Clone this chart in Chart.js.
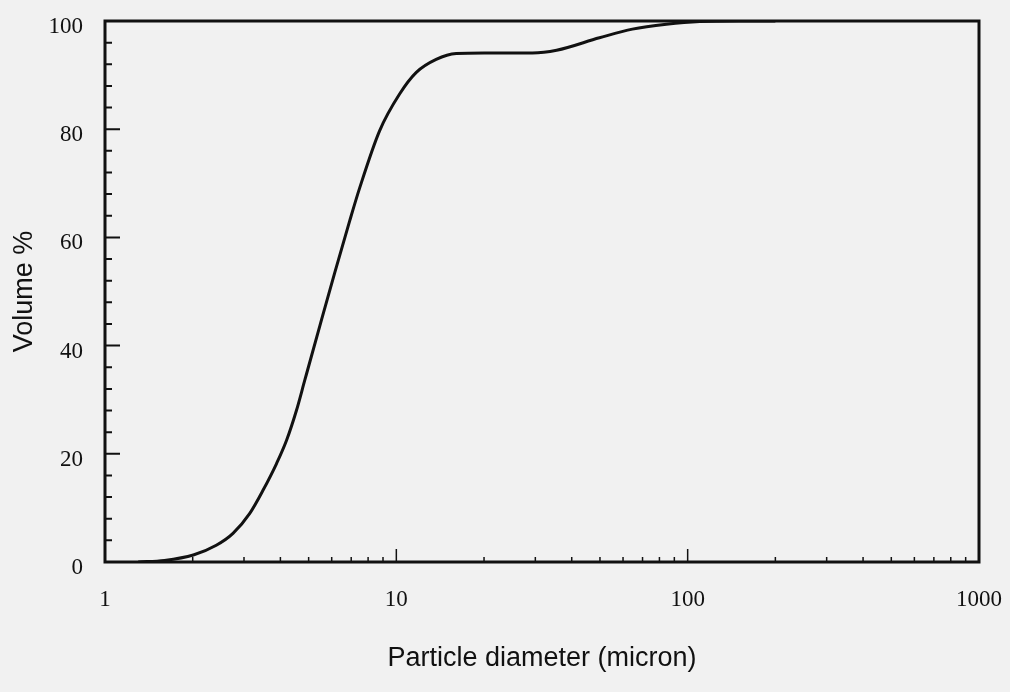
<!DOCTYPE html>
<html>
<head>
<meta charset="utf-8">
<script src="https://cdn.jsdelivr.net/npm/chart.js@4.4.1/dist/chart.umd.min.js"></script>
<style>
  html, body { margin: 0; padding: 0; background: #f1f1f1; }
  #wrap { width: 1010px; height: 692px; }
</style>
</head>
<body>
<div id="wrap"><canvas id="psdChart"></canvas></div>
<script>
// ---------- DATA ----------
let diameters = [1.3, 1.6, 2.01, 2.41, 2.75, 3.14, 3.49, 3.88, 4.20, 4.54, 4.85, 5.46, 6.14, 6.92, 7.49, 8.76, 10.26, 11.71, 13.7, 16.06, 20, 25, 29.3, 35.5, 49.8, 64.6, 84.5, 110, 150, 200];
let volumePct = [0, 0.3, 1.3, 3.1, 5.3, 9.0, 13.3, 18.2, 22.5, 28.0, 33.6, 43.6, 53.4, 63.1, 69.2, 79.7, 86.5, 90.5, 92.9, 94.0, 94.1, 94.1, 94.1, 94.6, 96.9, 98.5, 99.4, 99.9, 100, 100];

let xTickValues = [1, 10, 100, 1000];
let yTickStep = 20;
let yMinorStep = 4;

// ---------- FRAME + INWARD TICKS ----------
const frameTicks = {
  id: "frameTicks",
  afterDatasetsDraw(chart) {
    const { ctx, chartArea: a, scales: { x, y } } = chart;
    ctx.save();
    ctx.strokeStyle = "#111";
    ctx.lineWidth = 2;
    ctx.beginPath();
    // y ticks
    for (let v = 0; v <= 100; v += yMinorStep) {
      let py = y.getPixelForValue(v);
      let len = v % yTickStep === 0 ? 15 : 7;
      ctx.moveTo(a.left, py);
      ctx.lineTo(a.left + len, py);
    }
    ctx.stroke();
    // x ticks (log minor)
    ctx.lineWidth = 1.5;
    ctx.beginPath();
    [1, 10, 100].forEach(d => {
      for (let k = 2; k <= 10; k++) {
        let v = k * d;
        if (v >= 1000) continue;
        let px = x.getPixelForValue(v);
        let len = k === 10 ? 13 : 5;
        ctx.moveTo(px, a.bottom);
        ctx.lineTo(px, a.bottom - len);
      }
    });
    ctx.stroke();
    // frame
    ctx.lineWidth = 3;
    ctx.strokeRect(a.left, a.top, a.right - a.left, a.bottom - a.top);
    ctx.restore();
  }
};

new Chart(document.getElementById("psdChart"), {
  type: "line",
  data: {
    datasets: [{
      label: "Cumulative volume",
      data: diameters.map((d, i) => ({ x: d, y: volumePct[i] })),
      borderColor: "#111",
      borderWidth: 3,
      pointRadius: 0,
      cubicInterpolationMode: "monotone",
      fill: false
    }]
  },
  options: {
    responsive: true,
    maintainAspectRatio: false,
    animation: false,
    layout: { padding: { top: 21, right: 31, left: 0, bottom: 0 } },
    plugins: { legend: { display: false }, tooltip: { enabled: false } },
    scales: {
      x: {
        type: "logarithmic",
        min: 1,
        max: 1000,
        afterBuildTicks: scale => { scale.ticks = xTickValues.map(v => ({ value: v })); },
        afterFit: scale => {
          scale.height = 130;
          scale.paddingLeft = 0;
          scale.paddingRight = 0;
        },
        grid: { display: false, drawTicks: false },
        border: { display: false },
        ticks: {
          autoSkip: false,
          maxRotation: 0,
          padding: 24,
          color: "#111",
          font: { family: "'Liberation Serif', serif", size: 23 },
          callback: v => String(v)
        },
        title: {
          display: true,
          text: "Particle diameter (micron)",
          color: "#111",
          font: { family: "'Liberation Sans', Arial, sans-serif", size: 27 },
          padding: { top: 0, bottom: 17 }
        }
      },
      y: {
        min: 0,
        max: 100,
        afterFit: scale => {
          scale.width = 105;
          scale.paddingTop = 0;
          scale.paddingBottom = 0;
        },
        grid: { display: false, drawTicks: false },
        border: { display: false },
        ticks: {
          stepSize: yTickStep,
          padding: 22,
          labelOffset: 6,
          color: "#111",
          font: { family: "'Liberation Serif', serif", size: 23 }
        },
        title: {
          display: true,
          text: "Volume %",
          color: "#111",
          font: { family: "'Liberation Sans', Arial, sans-serif", size: 27 },
          padding: { top: 8, bottom: 0 }
        }
      }
    }
  },
  plugins: [frameTicks]
});
</script>
</body>
</html>
